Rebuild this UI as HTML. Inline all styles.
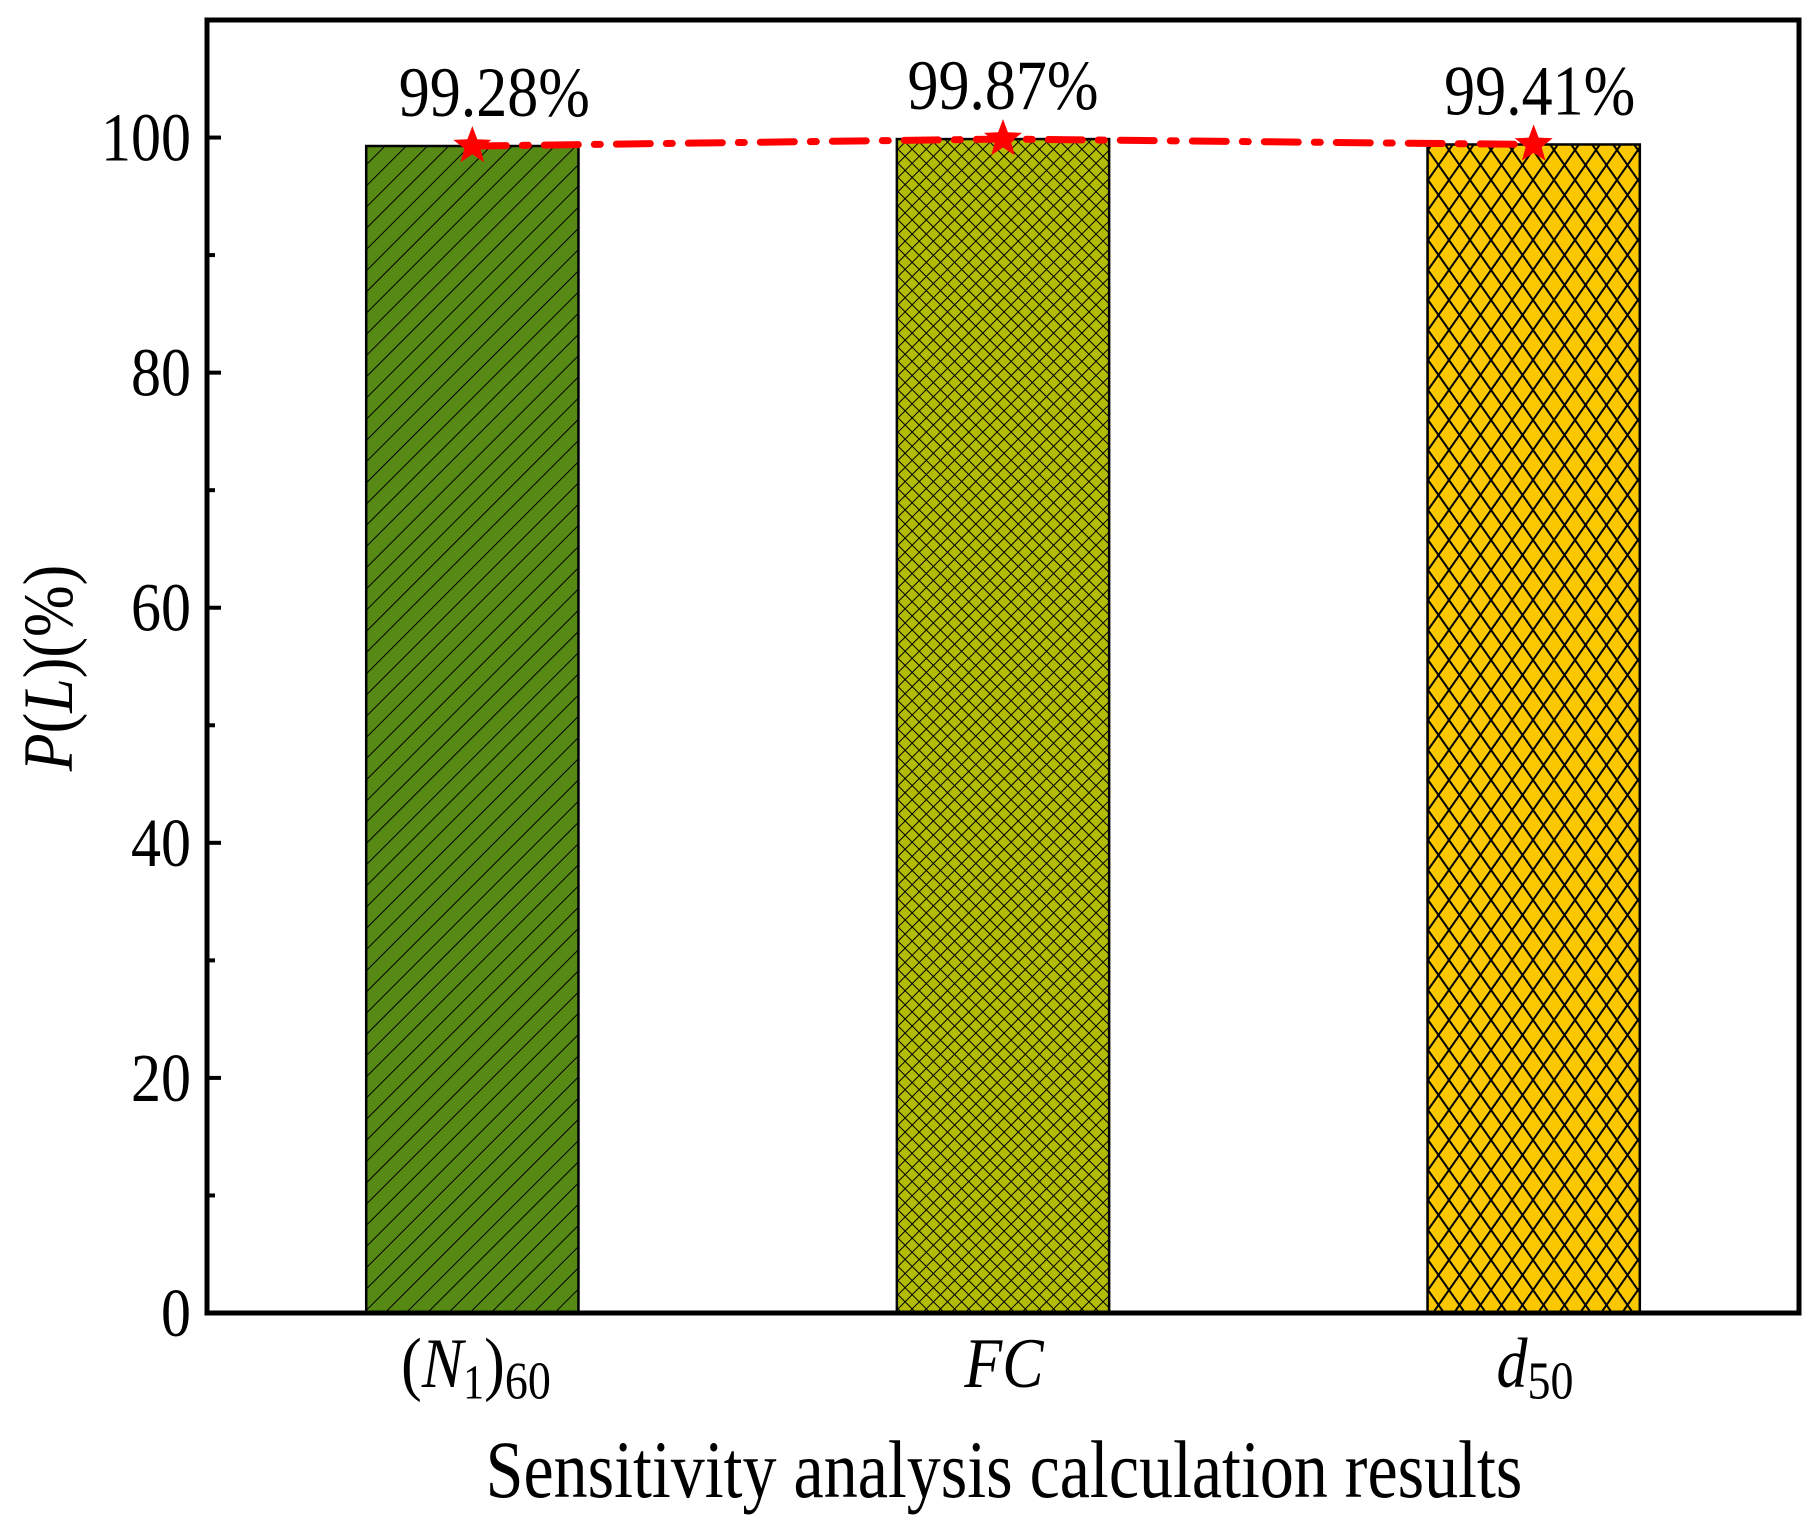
<!DOCTYPE html>
<html><head><meta charset="utf-8"><style>
html,body{margin:0;padding:0;background:#fff;}
svg{display:block;font-family:"Liberation Serif","Times New Roman",serif;}
</style></head><body>
<svg id="chart" width="1820" height="1527" viewBox="0 0 1820 1527">
<defs>
<pattern id="p0" patternUnits="userSpaceOnUse" width="15" height="15" patternTransform="rotate(45)">
<rect width="15" height="15" fill="#578a14"/><line x1="0" y1="0" x2="0" y2="15" stroke="#000" stroke-width="2"/></pattern>
<pattern id="p1" patternUnits="userSpaceOnUse" width="10" height="10" patternTransform="rotate(45)">
<rect width="10" height="10" fill="#b3bc05"/><line x1="0" y1="0" x2="0" y2="10" stroke="#000" stroke-width="2"/><line x1="0" y1="0" x2="10" y2="0" stroke="#000" stroke-width="2"/></pattern>
<pattern id="p2" patternUnits="userSpaceOnUse" width="21" height="30">
<rect width="21" height="30" fill="#fbc800"/><path d="M0,0 L21,30 M21,0 L0,30" stroke="#000" stroke-width="2" fill="none"/></pattern>
</defs>
<g id="plot"></g>
</svg>
<script>
const categories = ["(N1)60", "FC", "d50"];
const values = [99.28, 99.87, 99.41];
const valueLabels = ["99.28%", "99.87%", "99.41%"];
const yTicks = [0, 20, 40, 60, 80, 100];
const yMinorTicks = [10, 30, 50, 70, 90];
const labelShift = [22, 0, 6];

const L = 207, R = 1799, T = 20, B = 1313, YMAX = 110;
const ys = v => B - v / YMAX * (B - T);
const xs = i => L + (i + 0.5) / categories.length * (R - L);
const bw = 0.4 * (R - L) / categories.length;
const NS = "http://www.w3.org/2000/svg";
const g = document.getElementById('plot');
function mk(tag, attrs, parent) {
  const e = document.createElementNS(NS, tag);
  for (const k in attrs) e.setAttribute(k, attrs[k]);
  (parent || g).appendChild(e);
  return e;
}
values.forEach((v, i) => {
  const r = mk('rect', {x: xs(i) - bw / 2, y: ys(v), width: bw, height: B - ys(v), fill: 'url(#p' + i + ')', stroke: '#000', 'stroke-width': 2.5});
  
  
});
const pts = values.map((v, i) => xs(i) + ',' + ys(v)).join(' ');
const ln = mk('polyline', {points: pts, fill: 'none', stroke: '#ff0000', 'stroke-width': 7, 'stroke-dasharray': '34 16 6 16', 'stroke-linecap': 'round'});


function star(cx, cy, r) {
  let d = '';
  for (let k = 0; k < 10; k++) {
    const a = -Math.PI / 2 + k * Math.PI / 5, rr = k % 2 ? r * 0.42 : r;
    d += (k ? 'L' : 'M') + (cx + rr * Math.cos(a)) + ',' + (cy + rr * Math.sin(a));
  }
  return d + 'Z';
}
values.forEach((v, i) => {
  const s = mk('path', {d: star(xs(i), ys(v), 20), fill: '#ff0000'});
  
  
  const t = mk('text', {transform: 'translate(' + (xs(i) + labelShift[i]) + ',' + (ys(v) - 30) + ') scale(1,1.15)', 'text-anchor': 'middle', 'font-size': 62, fill: '#000'});
  t.textContent = valueLabels[i];
  
  
});
const fr = mk('rect', {x: L, y: T, width: R - L, height: B - T, fill: 'none', stroke: '#000', 'stroke-width': 5});


yTicks.forEach(v => {
  const tk = mk('line', {x1: L, x2: L + 14, y1: ys(v), y2: ys(v), stroke: '#000', 'stroke-width': 4});
  
  
  const t = mk('text', {transform: 'translate(' + (L - 16) + ',' + (ys(v) + 23) + ') scale(1,1.15)', 'text-anchor': 'end', 'font-size': 60});
  t.textContent = v;
  
  
});
yMinorTicks.forEach(v => {
  const tk = mk('line', {x1: L, x2: L + 8, y1: ys(v), y2: ys(v), stroke: '#000', 'stroke-width': 4});
  
  
});
</script>
<svg style="position:absolute;left:0;top:0" width="1820" height="1527">
<g font-family="Liberation Serif, serif" font-size="62" fill="#000">
<text transform="translate(476,1387) scale(1,1.15)" text-anchor="middle">(<tspan font-style="italic">N</tspan><tspan font-size="42" dy="10">1</tspan><tspan dy="-10">)</tspan><tspan font-size="46" dy="10">60</tspan></text>
<text transform="translate(1004,1387) scale(1,1.15)" text-anchor="middle" font-style="italic">FC</text>
<text transform="translate(1535,1387) scale(1,1.15)" text-anchor="middle"><tspan font-style="italic">d</tspan><tspan font-size="46" dy="10">50</tspan></text>
<text transform="translate(1004,1497) scale(1,1.2)" text-anchor="middle" font-size="68">Sensitivity analysis calculation results</text>
<text transform="translate(72,668) rotate(-90) scale(1,1.15)" text-anchor="middle" font-size="62"><tspan font-style="italic">P</tspan>(<tspan font-style="italic">L</tspan>)(%)</text>
</g>
</svg>
</body></html>
